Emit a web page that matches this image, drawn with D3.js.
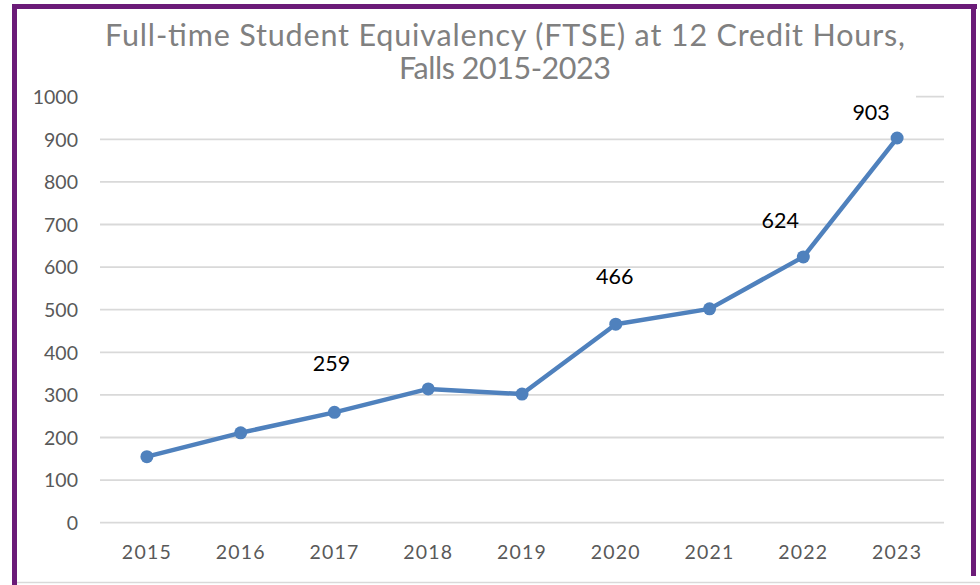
<!DOCTYPE html>
<html><head><meta charset="utf-8">
<script src="https://cdn.jsdelivr.net/npm/d3@7"></script>
<style>html,body{margin:0;padding:0;background:#fff;}svg{display:block;}</style>
</head><body>
<svg id="c" width="980" height="585"></svg>
<script>
const years = ["2015","2016","2017","2018","2019","2020","2021","2022","2023"];
const ftse = [155, 211, 259, 314, 302, 466, 502, 624, 903];
const labeledYears = ["2017","2020","2022","2023"];
const yTicks = [0,100,200,300,400,500,600,700,800,900,1000];
const titleLines = ["Full-time Student Equivalency (FTSE) at 12 Credit Hours,", "Falls 2015-2023"];

const svg = d3.select("#c");
const W = 980, H = 585;
const font = "'Gill Sans','Gill Sans MT',Lato,'Open Sans',sans-serif";

// frame
svg.append("rect").attr("x",0).attr("y",0).attr("width",W).attr("height",H).attr("fill","#fff");
svg.append("line").attr("x1",14).attr("x2",W).attr("y1",582.5).attr("y2",582.5).attr("stroke","#d9d9d9").attr("stroke-width",1.5);
svg.append("rect").attr("x",12).attr("y",4).attr("width",5).attr("height",H).attr("fill","#6b1b78");
svg.append("rect").attr("x",12).attr("y",4).attr("width",965).attr("height",5).attr("fill","#6b1b78");
svg.append("rect").attr("x",971).attr("y",4).attr("width",5).attr("height",572).attr("fill","#6b1b78");

const m = {left:100, right:944, top:96.7, bottom:522.7};
const x = d3.scaleBand().domain(years).range([m.left, m.right]);
const y = d3.scaleLinear().domain([0,1000]).range([m.bottom, m.top]);

// gridlines
svg.append("g").selectAll("line").data(yTicks).join("line")
  .attr("x1",m.left).attr("x2",m.right)
  .attr("y1",d=>y(d)).attr("y2",d=>y(d))
  .attr("stroke","#d9d9d9").attr("stroke-width",1.8);

// y axis labels
const yAxis = d3.axisLeft(y).tickValues(yTicks).tickSize(0).tickPadding(0).tickFormat(d3.format("d"));
const ga = svg.append("g").attr("transform",`translate(78,0)`).call(yAxis);
ga.select(".domain").remove();
ga.selectAll("text").attr("font-family",font).attr("font-size",19.5).attr("fill","#595959").attr("dy","0.35em");

// x axis labels
const xAxis = d3.axisBottom(x).tickSize(0).tickPadding(0);
const gx = svg.append("g").attr("transform",`translate(0,552)`).call(xAxis);
gx.select(".domain").remove();
gx.selectAll("text").attr("font-family",font).attr("font-size",19.5).attr("letter-spacing",1.2).attr("fill","#595959").attr("dy","0.35em");

// title background & text
svg.append("rect").attr("x",100).attr("y",14).attr("width",816).attr("height",88).attr("fill","#fff");
const t = svg.append("text").attr("text-anchor","middle").attr("font-family",font).attr("font-size",30.5).attr("fill","#808080");
const titleW = [800, 212];
titleLines.forEach((s,i)=>{
  t.append("tspan").attr("x",505).attr("y",46 + i*33).attr("textLength",titleW[i]).attr("lengthAdjust","spacing").text(s);
});

// line
const cx = d => x(d) + x.bandwidth()/2;
const data = years.map((yr,i)=>({yr, v: ftse[i]}));
svg.append("path").datum(data)
  .attr("fill","none").attr("stroke","#4f81bd").attr("stroke-width",4.5).attr("stroke-linejoin","round")
  .attr("d", d3.line().x(d=>cx(d.yr)).y(d=>y(d.v)));
svg.append("g").selectAll("circle").data(data).join("circle")
  .attr("cx",d=>cx(d.yr)).attr("cy",d=>y(d.v)).attr("r",6.5).attr("fill","#4f81bd");

// data labels
const labelShift = {"2017":-3, "2020":-1, "2022":-23, "2023":-26};
const labelRise = {"2017":41, "2020":40, "2022":29, "2023":18};
svg.append("g").selectAll("text").data(data.filter(d=>labeledYears.includes(d.yr))).join("text")
  .attr("x",d=>cx(d.yr)+labelShift[d.yr]).attr("y",d=>y(d.v)-labelRise[d.yr])
  .attr("text-anchor","middle").attr("font-family",font).attr("font-size",21.5).attr("fill","#000")
  .text(d=>d.v);
</script>
</body></html>
